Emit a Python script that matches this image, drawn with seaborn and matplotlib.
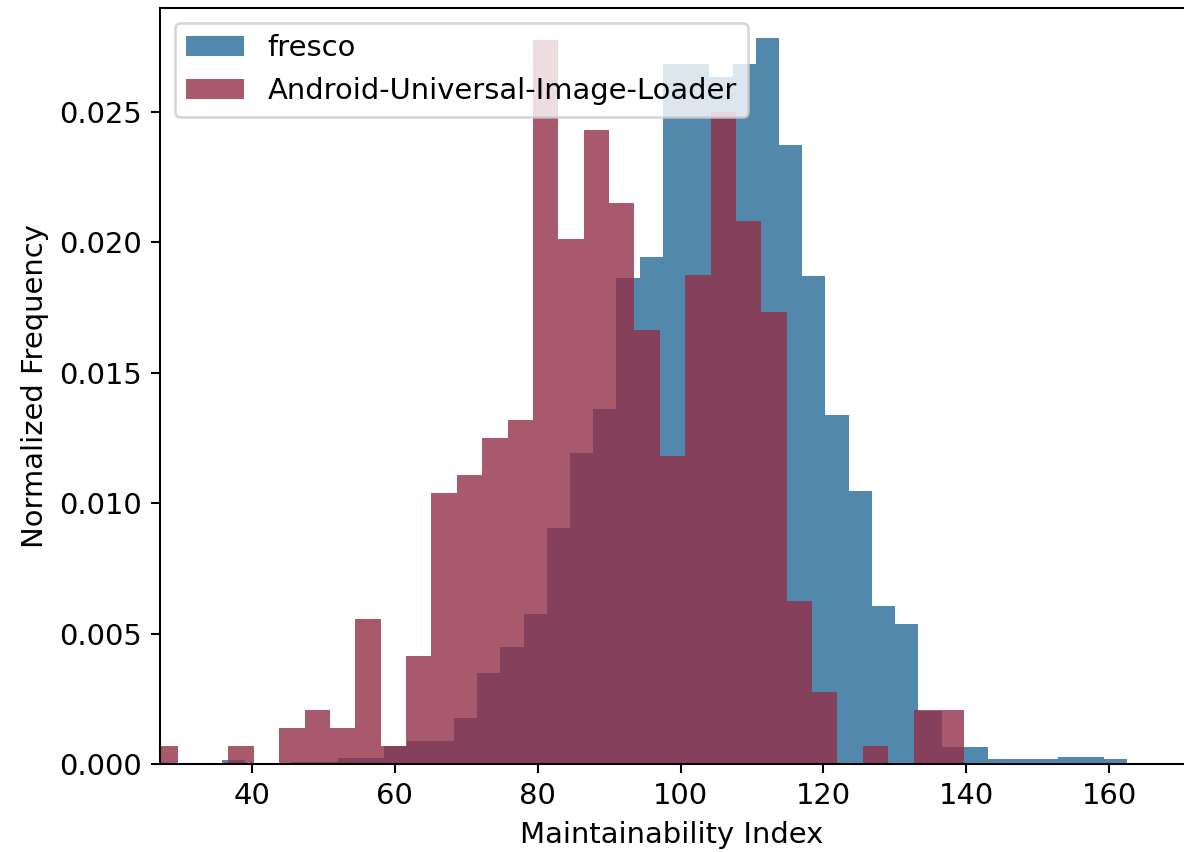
import numpy as np
import pandas as pd
import matplotlib
matplotlib.use("Agg")
import matplotlib.pyplot as plt
import seaborn as sns

# Histogram bin layout for each project: first edge, bin width, number of bins
fresco_start, fresco_width, fresco_nbins = 35.80, 3.249, 39
auil_start, auil_width, auil_nbins = 26.09, 3.551, 32

# Normalized frequency (density) of each bin
fresco_density = [
    0.00018, 0.0, 0.0, 0.00010, 0.00010, 0.00025, 0.00025, 0.00070,
    0.00090, 0.00090, 0.00176, 0.00349, 0.00450, 0.00575, 0.00906,
    0.01194, 0.01360, 0.01862, 0.01943, 0.02682, 0.02682, 0.02634,
    0.02682, 0.02782, 0.02375, 0.01872, 0.01338, 0.01048, 0.00608,
    0.00536, 0.00205, 0.00065, 0.00065, 0.00019, 0.00019, 0.00019,
    0.00027, 0.00027, 0.00019,
]
auil_density = [
    0.00069, 0.0, 0.0, 0.00069, 0.0, 0.00139, 0.00208, 0.00139,
    0.00555, 0.00069, 0.00416, 0.01041, 0.01110, 0.01249, 0.01318,
    0.02776, 0.02012, 0.02429, 0.02151, 0.01665, 0.01180, 0.01874,
    0.02498, 0.02082, 0.01735, 0.00625, 0.00278, 0.0, 0.00069, 0.0,
    0.00208, 0.00208,
]

series_labels = ["fresco", "Android-Universal-Image-Loader"]
x_label = "Maintainability Index"
y_label = "Normalized Frequency"
x_ticks = [40, 60, 80, 100, 120, 140, 160]
y_ticks = [0.000, 0.005, 0.010, 0.015, 0.020, 0.025]

fresco_edges = fresco_start + fresco_width * np.arange(fresco_nbins + 1)
auil_edges = auil_start + auil_width * np.arange(auil_nbins + 1)
fresco_df = pd.DataFrame({
    "mi": (fresco_edges[:-1] + fresco_edges[1:]) / 2,
    "density": fresco_density,
})
auil_df = pd.DataFrame({
    "mi": (auil_edges[:-1] + auil_edges[1:]) / 2,
    "density": auil_density,
})

plt.rcParams["font.size"] = 11.3

W, H, DPI = 1184, 852, 185
fig = plt.figure(figsize=(W / DPI, H / DPI), dpi=DPI)
ax = fig.add_axes([160 / W, (H - 764.3) / H, (W - 160) / W, (764.3 - 8.3) / H])

sns.histplot(data=fresco_df, x="mi", weights="density",
             bins=fresco_edges.tolist(), stat="count", color="#276A97",
             alpha=0.8, linewidth=0, edgecolor="none",
             label=series_labels[0], ax=ax)
sns.histplot(data=auil_df, x="mi", weights="density",
             bins=auil_edges.tolist(), stat="count", color="#923047",
             alpha=0.8, linewidth=0, edgecolor="none",
             label=series_labels[1], ax=ax)

ax.set_xlim(27.17, 170.45)
ax.set_ylim(0, 0.02897)
ax.set_xticks(x_ticks)
ax.set_yticks(y_ticks)
ax.set_yticklabels([f"{v:.3f}" for v in y_ticks])
ax.set_xlabel(x_label)
ax.set_ylabel(y_label)
ax.spines["right"].set_visible(False)
ax.legend(loc="upper left")

fig.savefig("out.png", dpi=DPI)
